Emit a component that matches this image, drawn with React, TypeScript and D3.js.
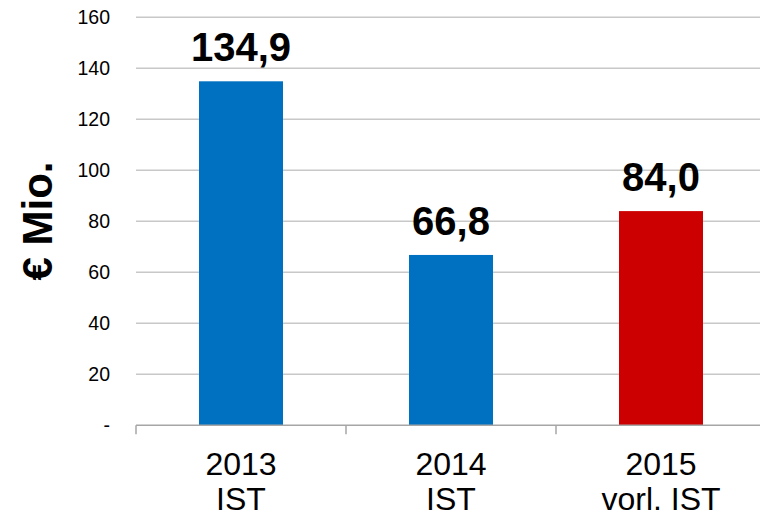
import React, { useEffect, useRef } from 'react';
import * as d3 from 'd3';

const categories = ['2013|IST', '2014|IST', '2015|vorl. IST'];
const values = [134.9, 66.8, 84.0];
const barColors = ['#0070c0', '#0070c0', '#cc0000'];
const yTicks = [0, 20, 40, 60, 80, 100, 120, 140, 160];

const App: React.FC = () => {
  const svgRef = useRef<SVGSVGElement>(null);

  useEffect(() => {
    if (!svgRef.current) return;
    const svg = d3.select(svgRef.current);
    svg.selectAll('*').remove();

    const width = 760;
    const height = 515;
    const left = 136;
    const font = 'Arial, "Liberation Sans", sans-serif';

    svg.attr('width', width).attr('height', height);

    const x = d3.scaleBand<string>()
      .domain(categories)
      .range([left, left + 630])
      .paddingInner(0.6)
      .paddingOuter(0.3);

    const y = d3.scaleLinear().domain([0, 160]).range([425.3, 17.3]);

    // Gridlines
    svg.selectAll('.grid')
      .data(yTicks.filter(d => d > 0))
      .enter()
      .append('line')
      .attr('x1', left)
      .attr('x2', width)
      .attr('y1', d => y(d))
      .attr('y2', d => y(d))
      .attr('stroke', '#c8c8c8')
      .attr('stroke-width', 1.5);

    // Y tick labels
    svg.selectAll('.ytick')
      .data(yTicks)
      .enter()
      .append('text')
      .attr('x', 110)
      .attr('y', d => y(d))
      .attr('text-anchor', 'end')
      .attr('dominant-baseline', 'central')
      .attr('font-family', font)
      .attr('font-size', 19.5)
      .attr('fill', '#000')
      .text(d => (d === 0 ? '-' : String(d)));

    // Bars
    svg.selectAll('.bar')
      .data(values)
      .enter()
      .append('rect')
      .attr('x', (d, i) => x(categories[i])!)
      .attr('width', x.bandwidth())
      .attr('y', d => y(d))
      .attr('height', d => y(0) - y(d))
      .attr('fill', (d, i) => barColors[i]);

    // Baseline axis
    svg.append('line')
      .attr('x1', left)
      .attr('x2', width)
      .attr('y1', y(0))
      .attr('y2', y(0))
      .attr('stroke', '#a6a6a6')
      .attr('stroke-width', 1.5);

    // Category separators
    const step = x.step();
    const sepX = categories.map((c, i) => left + i * step);
    svg.selectAll('.sep')
      .data(sepX)
      .enter()
      .append('line')
      .attr('x1', d => d)
      .attr('x2', d => d)
      .attr('y1', y(0))
      .attr('y2', y(0) + 9)
      .attr('stroke', '#a6a6a6')
      .attr('stroke-width', 1.5);

    // Value labels
    svg.selectAll('.val')
      .data(values)
      .enter()
      .append('text')
      .attr('x', (d, i) => x(categories[i])! + x.bandwidth() / 2)
      .attr('y', d => y(d) - 20)
      .attr('text-anchor', 'middle')
      .attr('font-family', font)
      .attr('font-size', 40)
      .attr('font-weight', 'bold')
      .attr('fill', '#000')
      .text(d => d.toFixed(1).replace('.', ','));

    // Category labels (two lines)
    categories.forEach(c => {
      const cx = x(c)! + x.bandwidth() / 2;
      const t = svg.append('text')
        .attr('text-anchor', 'middle')
        .attr('font-family', font)
        .attr('font-size', 32)
        .attr('fill', '#000');
      c.split('|').forEach((line, j) => {
        t.append('tspan')
          .attr('x', cx)
          .attr('y', 475 + j * 35)
          .text(line);
      });
    });

    // Y axis title
    svg.append('text')
      .attr('transform', `translate(52, ${221}) rotate(-90)`)
      .attr('text-anchor', 'middle')
      .attr('font-family', font)
      .attr('font-size', 42)
      .attr('font-weight', 'bold')
      .attr('fill', '#000')
      .text('€ Mio.');
  }, []);

  return (
    <div style={{ position: 'absolute', left: 0, top: 0, background: '#fff' }}>
      <svg ref={svgRef} style={{ display: 'block' }}></svg>
    </div>
  );
};

export default App;
